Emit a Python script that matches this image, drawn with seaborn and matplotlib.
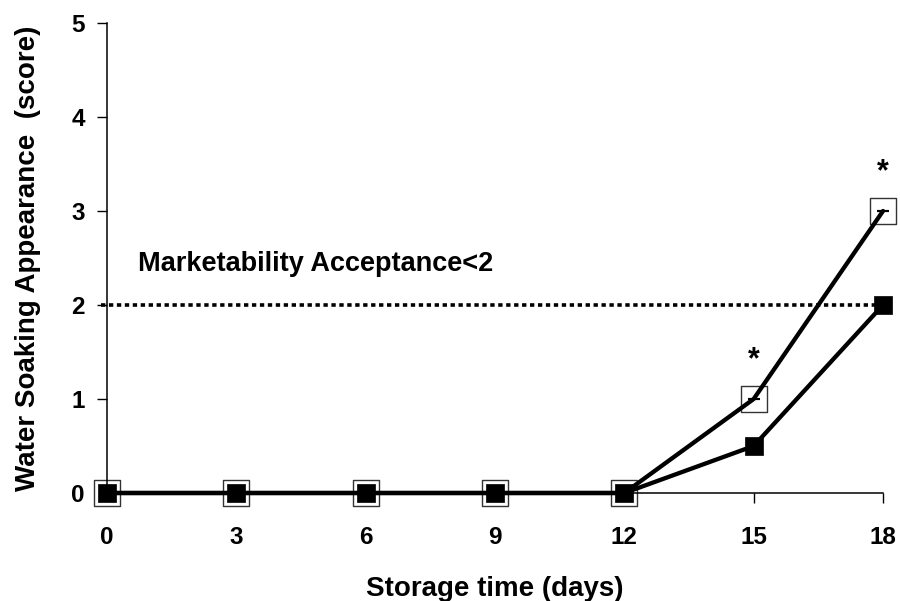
import matplotlib
matplotlib.use("Agg")
import matplotlib.pyplot as plt
import seaborn as sns
import pandas as pd

days = [0, 3, 6, 9, 12, 15, 18]
control = [0, 0, 0, 0, 0, 1, 3]
treated = [0, 0, 0, 0, 0, 0.5, 2]
threshold = 2
y_ticks = [0, 1, 2, 3, 4, 5]
star_pos = [(15, 1.45), (18, 3.45)]
note = "Marketability Acceptance<2"

sns.set_style("ticks")
plt.rcParams["font.family"] = ["Liberation Sans", "DejaVu Sans"]
plt.rcParams["font.weight"] = "bold"
plt.rcParams["text.color"] = "black"
plt.rcParams["axes.labelcolor"] = "black"

fig = plt.figure(figsize=(9, 6.01), dpi=100)
ax = fig.add_axes([107 / 900, 1 - 493 / 601, (883 - 107) / 900, (493 - 23) / 601])

df_c = pd.DataFrame({"day": days, "score": control})
df_t = pd.DataFrame({"day": days, "score": treated})

# dotted marketability limit
ax.axhline(threshold, color="black", lw=2.6, ls=(0, (1.2, 1.0)), xmin=-0.008, xmax=1.0,
           clip_on=False, zorder=1)

# open squares sit underneath the connecting lines
sns.scatterplot(data=df_c, x="day", y="score", ax=ax, marker="s", s=330,
                facecolor="white", edgecolor="#333333", linewidth=1.0,
                zorder=2, clip_on=False)
ax.errorbar(days, control, yerr=[0] * len(days), fmt="none", ecolor="black",
            capsize=4.5, capthick=1.5, elinewidth=0, zorder=2.5, clip_on=False)

sns.lineplot(data=df_c, x="day", y="score", ax=ax, color="black", lw=3.1,
             zorder=3, clip_on=False)
sns.lineplot(data=df_t, x="day", y="score", ax=ax, color="black", lw=3.1,
             zorder=3, clip_on=False)
sns.scatterplot(data=df_t, x="day", y="score", ax=ax, marker="s", s=180,
                color="black", edgecolor="black", linewidth=0.5,
                zorder=4, clip_on=False)

for x, y in star_pos:
    ax.text(x, y, "*", ha="center", va="center_baseline", fontsize=22, fontweight="bold")

ax.text(0.72, 2.36, note, fontsize=19.5, fontweight="bold", ha="left", va="baseline")

ax.set_xlim(0, 18)
ax.set_ylim(0, 5)
ax.set_xticks(days)
ax.set_yticks(y_ticks)
ax.tick_params(axis="both", labelsize=17.5, width=1, length=7, colors="black")
ax.tick_params(axis="x", pad=17)
ax.tick_params(axis="y", pad=9)
for lab in ax.get_xticklabels() + ax.get_yticklabels():
    lab.set_fontweight("bold")
ax.set_xlabel("Storage time (days)", fontsize=20, fontweight="bold", labelpad=19)
ax.set_ylabel("Water Soaking Appearance  (score)", fontsize=20, fontweight="bold", labelpad=22)
sns.despine(ax=ax)
for s in ["left", "bottom"]:
    ax.spines[s].set_linewidth(1.1)
    ax.spines[s].set_color("black")

fig.savefig("out.png", dpi=100)
